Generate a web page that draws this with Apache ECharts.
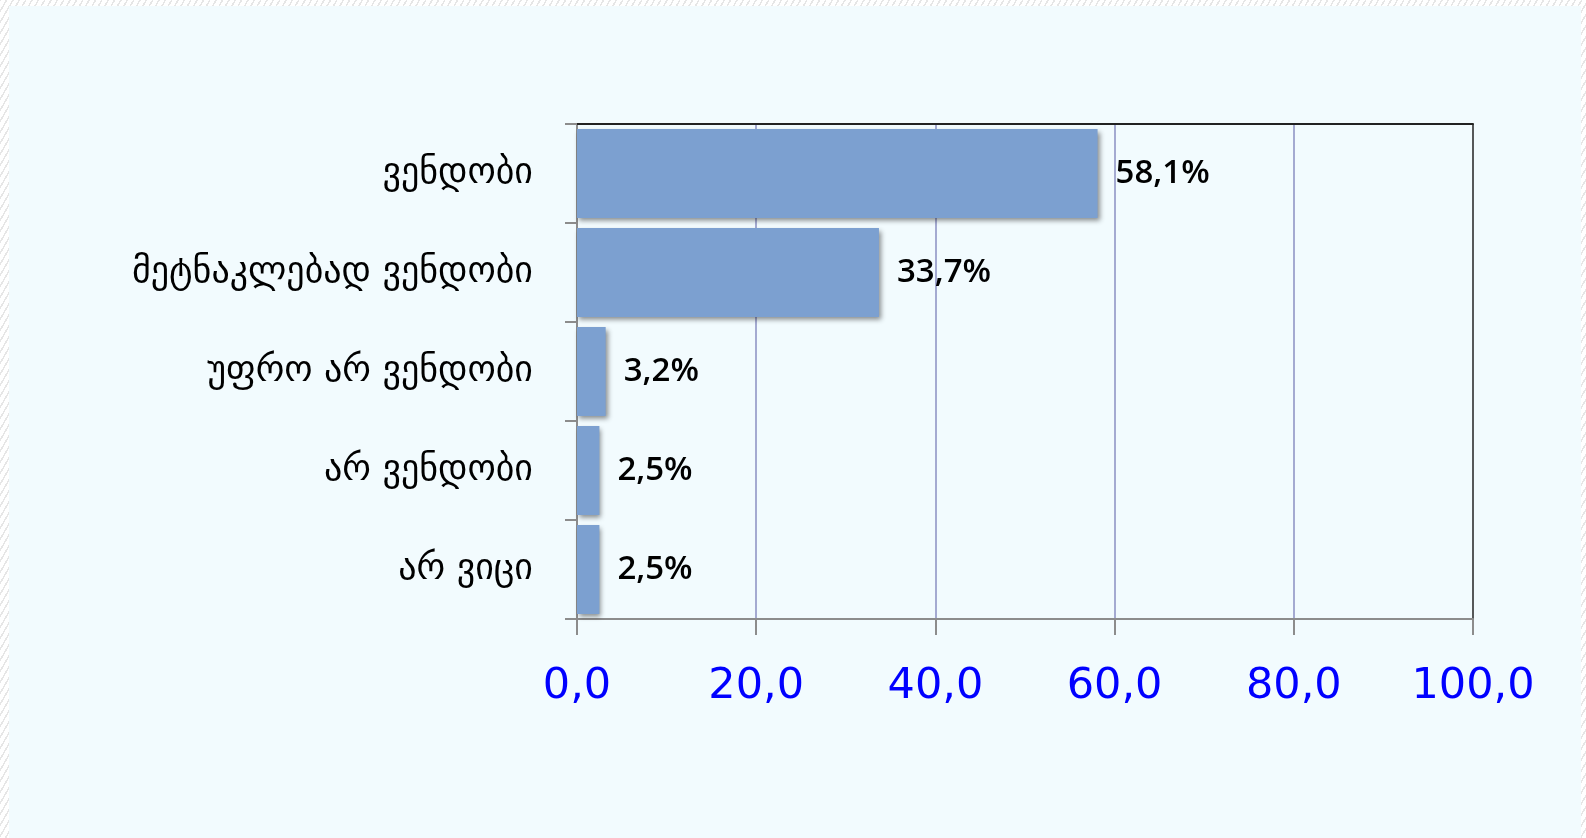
<!DOCTYPE html>
<html>
<head>
<meta charset="utf-8">
<script src="https://cdn.jsdelivr.net/npm/echarts@6/dist/echarts.min.js"></script>
<style>
  html, body { margin: 0; padding: 0; width: 1586px; height: 838px; overflow: hidden;
    background: repeating-linear-gradient(-60deg, #ffffff 0px, #ffffff 4px, #e6e6e6 4px, #e6e6e6 5.5px); }
  #chart { position: absolute; left: 9px; top: 6px; width: 1572px; height: 832px; background: #f2fbfe; }
</style>
</head>
<body>
<div id="chart"></div>
<script>
const categories = ['ვენდობი', 'მეტნაკლებად ვენდობი', 'უფრო არ ვენდობი', 'არ ვენდობი', 'არ ვიცი'];
const values = [58.1, 33.7, 3.2, 2.5, 2.5];
const xMin = 0, xMax = 100, xInterval = 20;

const chart = echarts.init(document.getElementById('chart'));
const gridColor = '#8a8fc2';
chart.setOption({
  backgroundColor: '#f2fbfe',
  animation: false,
  grid: { left: 568, top: 118, right: 108, bottom: 219, containLabel: false },
  xAxis: [{
    type: 'value', min: xMin, max: xMax, interval: xInterval, position: 'bottom',
    axisLine: { show: true, lineStyle: { color: '#8c8c8c', width: 2 } },
    axisTick: { show: true, length: 16, lineStyle: { color: '#8c8c8c', width: 2 } },
    axisLabel: {
      color: '#0000ff', fontSize: 43, fontFamily: 'DejaVu Sans', margin: 46,
      formatter: v => v.toFixed(1).replace('.', ',')
    },
    splitLine: { show: true, lineStyle: { color: ['#8c8c8c', gridColor, gridColor, gridColor, gridColor, '#222'], width: 1.5 } }
  }, {
    type: 'value', min: xMin, max: xMax, interval: xInterval, position: 'top',
    axisLine: { show: true, lineStyle: { color: '#222', width: 2 } },
    axisTick: { show: false }, axisLabel: { show: false }, splitLine: { show: false }
  }],
  yAxis: {
    type: 'category', data: categories, inverse: true,
    axisLine: { show: true, lineStyle: { color: '#8c8c8c', width: 2 } },
    axisTick: { show: true, length: 12, lineStyle: { color: '#8c8c8c', width: 2 } },
    axisLabel: { color: '#000', fontSize: 36, fontFamily: 'DejaVu Sans', margin: 44 }
  },
  series: [{
    type: 'bar', data: values, barCategoryGap: '10%', xAxisIndex: 0,
    itemStyle: {
      color: '#7ca0d0',
      shadowColor: 'rgba(0,0,0,0.45)', shadowBlur: 5, shadowOffsetX: 2, shadowOffsetY: 3
    },
    label: {
      show: true, position: 'right', distance: 18, color: '#000', fontSize: 33,
      fontFamily: 'Open Sans', fontWeight: 600,
      formatter: p => p.value.toFixed(1).replace('.', ',') + '%'
    }
  }]
});
</script>
</body>
</html>
